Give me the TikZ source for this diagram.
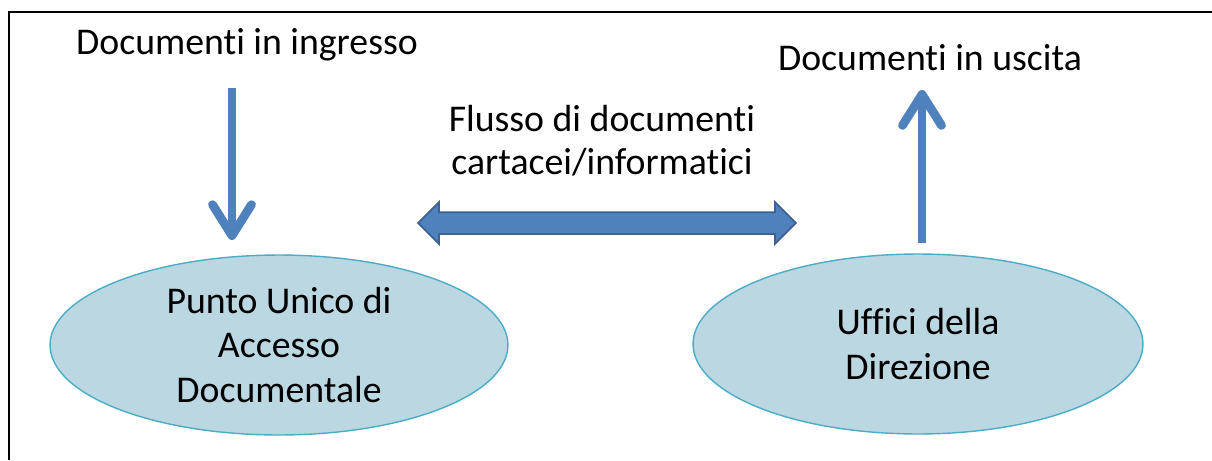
\documentclass[tikz,border=0pt]{standalone}
\usepackage{fontspec}
\setmainfont{Carlito}[Ligatures=NoCommon]
\usetikzlibrary{shapes.geometric,shapes.arrows,arrows.meta}
\definecolor{flowblue}{RGB}{79,129,189}
\definecolor{flowedge}{RGB}{60,98,145}
\definecolor{officefill}{RGB}{186,215,226}
\definecolor{officeedge}{RGB}{75,172,198}
\tikzset{
  office/.style   = {shape=ellipse, draw=officeedge, fill=officefill,
                     line width=0.8pt, align=center, inner sep=0pt},
  doctext/.style  = {align=center},
  flow/.style     = {draw=flowblue, line width=5pt,
                     -{Straight Barb[length=0.62cm, width=0.78cm, round]}},
  exchange/.style = {shape=double arrow, draw=flowedge, fill=flowblue,
                     line width=1pt, inner xsep=0pt, inner ysep=0.2cm,
                     double arrow head extend=0.2cm,
                     double arrow tip angle=90}
}
\begin{document}
\begin{tikzpicture}
  [
    x                 = 0.02cm,
    y                 = -0.02cm,
    every node/.style = {font=\fontsize{21.5}{25.5}\selectfont}
  ]
  \useasboundingbox (0,0) rectangle (1212,460);
  \draw [line width=1.7pt] (9,460) -- (9,12) -- (1212,12);

  \node [doctext] (ingresso) at (247,45) {Documenti in ingresso};
  \node [doctext] (uscita)   at (930,58) {Documenti in uscita};
  \node [doctext, font=\fontsize{21.5}{24.5}\selectfont] (flusso) at (602,141)
        {Flusso di documenti\\cartacei/informatici};

  \node [office, minimum width=9.16cm, minimum height=3.6cm] (pu) at (279,345)
        {Punto Unico di\\Accesso\\Documentale};
  \node [office, minimum width=9.0cm, minimum height=3.6cm] (uffici) at (918,344)
        {Uffici della\\Direzione};

  \node [exchange, minimum height=7.56cm] (scambio) at (607,223) {};

  \coordinate (inStart)  at (232,88);
  \coordinate (inEnd)    at (232,240);
  \coordinate (outStart) at (922,243);
  \coordinate (outEnd)   at (922,90);
  \draw [flow] (inStart) -- (inEnd);
  \draw [flow] (outStart) -- (outEnd);
\end{tikzpicture}
\end{document}
